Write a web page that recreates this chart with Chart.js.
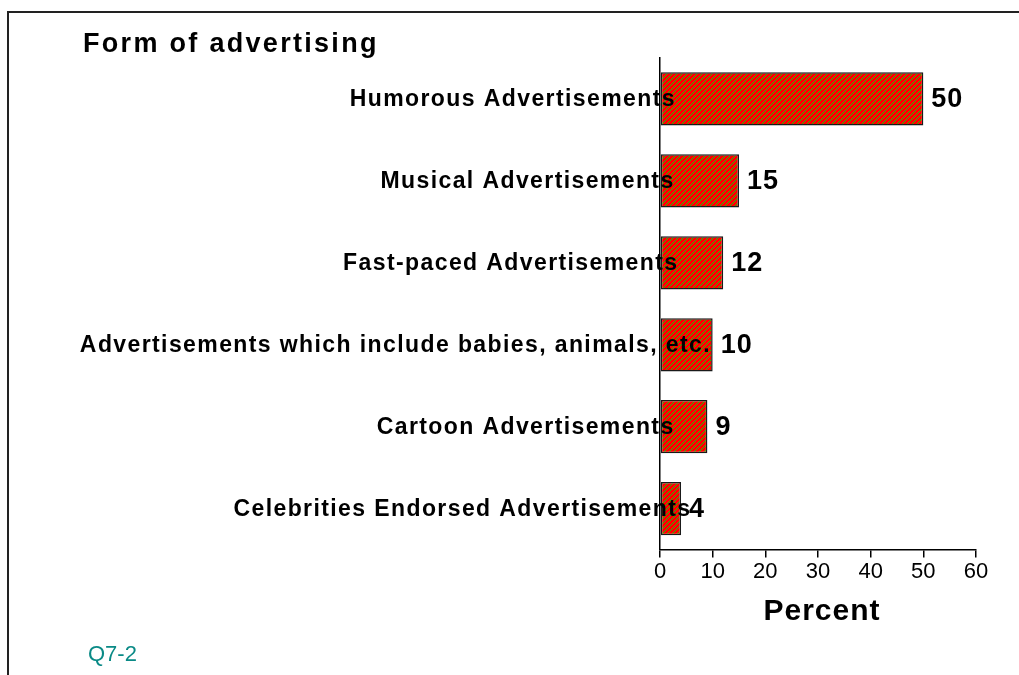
<!DOCTYPE html>
<html>
<head>
<meta charset="utf-8">
<title>Form of advertising</title>
<script src="https://cdn.jsdelivr.net/npm/chart.js@4"></script>
<style>
  body { margin: 0; background: #fff; }
  canvas { display: block; }
</style>
</head>
<body>
<canvas id="adChart" width="1019" height="675"></canvas>
<script>
// Form of advertising
const categories = [
  'Humorous Advertisements',
  'Musical Advertisements',
  'Fast-paced Advertisements',
  'Advertisements which include babies, animals, etc.',
  'Cartoon Advertisements',
  'Celebrities Endorsed Advertisements'
];
const percents = [50, 15, 12, 10, 9, 4];
const percentTicks = [0, 10, 20, 30, 40, 50, 60];

const FONT = '"Liberation Sans", Arial, sans-serif';

// red fill with thin green diagonal hatching
function makeHatch() {
  const n = 5;
  const c = document.createElement('canvas');
  c.width = n;
  c.height = n;
  const g = c.getContext('2d');
  g.fillStyle = '#ff0000';
  g.fillRect(0, 0, n, n);
  g.fillStyle = '#10d000';
  for (let x = 0; x < n; x++) {
    for (let y = 0; y < n; y++) {
      if ((x + y) % n === 0) g.fillRect(x, y, 1, 1);
    }
  }
  return g.createPattern(c, 'repeat');
}

// title, frame, category labels, values and axis title
const decorations = {
  id: 'decorations',
  beforeDraw(chart) {
    const ctx = chart.ctx;
    ctx.save();
    ctx.fillStyle = '#fff';
    ctx.fillRect(0, 0, chart.width, chart.height);
    ctx.strokeStyle = '#222';
    ctx.lineWidth = 2;
    ctx.beginPath();
    ctx.moveTo(8, chart.height);
    ctx.lineTo(8, 12);
    ctx.lineTo(chart.width, 12);
    ctx.stroke();
    ctx.restore();
  },
  afterDraw(chart) {
    const ctx = chart.ctx;
    const xs = chart.scales.x;
    const ys = chart.scales.y;
    ctx.save();
    ctx.fillStyle = '#000';
    ctx.textBaseline = 'middle';

    // title
    ctx.font = 'bold 27px ' + FONT;
    ctx.letterSpacing = '2.3px';
    ctx.textAlign = 'left';
    ctx.fillText('Form of advertising', 83, 45);

    // category labels: placed by their tighter width, drawn looser,
    // so the longer ones run further into the bars
    ctx.font = 'bold 23px ' + FONT;
    const anchor = xs.left - 14;
    categories.forEach((label, i) => {
      const y = ys.getPixelForValue(i) + 1;
      ctx.letterSpacing = '0.1px';
      const w = ctx.measureText(label).width;
      ctx.letterSpacing = '1.4px';
      ctx.fillText(label, anchor - w, y);
    });

    // values at the bar ends
    ctx.font = 'bold 27px ' + FONT;
    ctx.letterSpacing = '1px';
    percents.forEach((v, i) => {
      ctx.fillText(String(v), xs.getPixelForValue(v) + 8, ys.getPixelForValue(i) + 1);
    });

    // axis title
    ctx.font = 'bold 30px ' + FONT;
    ctx.letterSpacing = '1px';
    ctx.textAlign = 'center';
    ctx.fillText('Percent', (xs.left + xs.right) / 2 + 4, 612);

    // question reference
    ctx.font = '22px ' + FONT;
    ctx.letterSpacing = '0px';
    ctx.textAlign = 'left';
    ctx.fillStyle = '#0a8a86';
    ctx.fillText('Q7-2', 88, 655);
    ctx.restore();
  }
};

const ctx = document.getElementById('adChart').getContext('2d');
new Chart(ctx, {
  type: 'bar',
  data: {
    labels: categories,
    datasets: [{
      data: percents,
      backgroundColor: makeHatch(),
      borderColor: '#1a1a1a',
      borderWidth: 1.5,
      borderSkipped: false,
      barPercentage: 0.65,
      categoryPercentage: 1
    }]
  },
  options: {
    indexAxis: 'y',
    responsive: false,
    animation: false,
    layout: {
      padding: { top: 58, left: 660, right: 43, bottom: 89 }
    },
    plugins: {
      legend: { display: false },
      tooltip: { enabled: false }
    },
    scales: {
      x: {
        min: percentTicks[0],
        max: percentTicks[percentTicks.length - 1],
        afterBuildTicks(scale) {
          scale.ticks = percentTicks.map(v => ({ value: v }));
        },
        grid: {
          display: true,
          drawOnChartArea: false,
          drawTicks: true,
          tickLength: 8,
          color: '#000',
          lineWidth: 1.5
        },
        border: { display: true, color: '#000', width: 1.5 },
        ticks: {
          color: '#000',
          padding: 1,
          font: { family: FONT, size: 22 }
        }
      },
      y: {
        grid: { display: false, drawTicks: false, tickLength: 0 },
        border: { display: true, color: '#000', width: 1.5 },
        ticks: { display: false }
      }
    }
  },
  plugins: [decorations]
});
</script>
</body>
</html>
